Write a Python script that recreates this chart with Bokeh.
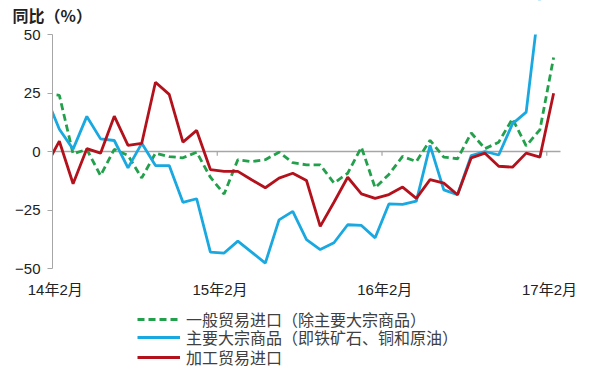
import numpy as np
from bokeh.plotting import figure
from bokeh.models import (Range1d, FixedTicker, Legend, LegendItem, ColumnDataSource)
from bokeh.core.properties import value
from bokeh.embed import file_html
from bokeh.resources import INLINE

# ---- data ----
months = [f"{y}年{m}月" for y in (14, 15, 16, 17) for m in range(1, 13)][:38]
general_import = [24.8, 24, -1, 0.9, -10.3, 0.9, -1.7, -11.3, -0.7, -2.2, -2.7, -0.3,
                  -11, -18.2, -3.5, -4.3, -3.5, -0.3, -4.8, -5.7, -5.7, -13.5, -9.3, 1.8,
                  -15.5, -9.8, -2.1, -4.3, 4.8, -2.4, -3.1, 7.9, 1.2, 4.0, 14, 2.4, 9.3, 40.2]
commodities = [23.8, 9.5, 1, 15, 5.4, 4.7, -7, 3.5, -6, -6, -21.7, -20.2,
               -43, -43.4, -38.3, -43, -47.7, -29.2, -25.6, -37.7, -41.9, -39, -31.3, -31.6,
               -36.9, -22.4, -22.6, -21.2, 2.6, -16.4, -18.4, -1.7, 0, -1.5, 11.8, 16.8, 66, np.nan]
processing = [-6.4, 4.4, -13.8, 1.2, -0.7, 15.1, 2.6, 3.5, 29.6, 24.4, 4.0, 9.0,
              -7.7, -8.5, -8.5, -12.1, -15.5, -11.4, -9.3, -12.4, -32, -21.7, -11, -18.1,
              -20, -18.4, -15.2, -20, -12, -13.5, -18.5, -2.7, -0.7, -6.3, -6.7, -0.7, -2.4, 24.9]
tick_labels = ["14年2月", "15年2月", "16年2月", "17年2月"]
y_ticks = [-50, -25, 0, 25, 50]
series_names = ["一般贸易进口（除主要大宗商品）", "主要大宗商品（即铁矿石、铜和原油）", "加工贸易进口"]
title_text = "同比（%）"

# ---- layout (pixels) ----
W, H = 600, 369
PLOT_L, PLOT_R, PLOT_T, PLOT_B = 52, 560, 34, 268
Y_MIN, Y_MAX = -50, 50

tick_pos = [months.index(l) - 0.5 for l in tick_labels]
x_first, x_last = tick_pos[0], len(months) - 0.5
ppx = (PLOT_R - PLOT_L) / (x_last - x_first)
ppy = (PLOT_B - PLOT_T) / (Y_MAX - Y_MIN)
x_range = Range1d(x_first - PLOT_L / ppx, x_last + (W - PLOT_R) / ppx)
y_range = Range1d(Y_MIN - (H - PLOT_B) / ppy, Y_MAX + PLOT_T / ppy)

x = np.arange(len(months))
src = ColumnDataSource(dict(x=x, g=general_import, c=commodities, p=processing))

p = figure(width=W, height=H, output_backend="svg", toolbar_location=None,
           x_range=x_range, y_range=y_range,
           min_border_left=0, min_border_right=0, min_border_top=0, min_border_bottom=0)
p.outline_line_color = None
p.xgrid.visible = False
p.ygrid.visible = False
p.background_fill_color = "white"

# zero line with small category ticks
p.segment(x0=[x_first], x1=[x_last], y0=[0], y1=[0], line_color="#A6A6A6", line_width=1.3)
p.segment(x0=tick_pos, x1=tick_pos, y0=[0] * len(tick_pos), y1=[-1.8] * len(tick_pos),
          line_color="#A6A6A6", line_width=1.2)

r_g = p.line("x", "g", source=src, line_color="#23A04B", line_width=2.8, line_dash="7 4")
r_c = p.line("x", "c", source=src, line_color="#19A8E0", line_width=2.8)
r_p = p.line("x", "p", source=src, line_color="#B3121C", line_width=2.8)

# plot area is bounded by the value axis and its maximum: hide what lies outside
pad = 20 / ppy
p.quad(left=[x_range.start], right=[x_first], bottom=[y_range.start], top=[y_range.end + pad],
       fill_color="white", line_color=None)
p.quad(left=[x_range.start], right=[x_range.end], bottom=[Y_MAX], top=[y_range.end + pad],
       fill_color="white", line_color=None)

# chart title (top-left)
p.text(x=[x_range.start + 12 / ppx], y=[Y_MAX + (PLOT_T - 14.5) / ppy], text=[title_text],
       text_align="left", text_baseline="middle",
       text_font=value("Noto Sans CJK SC"), text_font_size="16px", text_font_style="bold",
       text_color="#222222")

# x axis drawn at the bottom of the value range (labels "low")
xa = p.xaxis[0]
xa.fixed_location = Y_MIN
lab_pos = [t + 0.2 for t in tick_pos]
xa.ticker = FixedTicker(ticks=lab_pos)
xa.major_label_overrides = {t: l for t, l in zip(lab_pos, tick_labels)}
xa.axis_line_color = None
xa.major_tick_line_color = None
xa.major_tick_out = 0
xa.major_tick_in = 0
xa.minor_tick_line_color = None
xa.minor_tick_out = 0
xa.major_label_standoff = 12
xa.major_label_text_font = "Liberation Sans, Noto Sans CJK SC"
xa.major_label_text_font_size = "15px"
xa.major_label_text_color = "#222222"

ya = p.yaxis[0]
ya.fixed_location = x_first
ya.ticker = FixedTicker(ticks=y_ticks)
ya.bounds = (Y_MIN, Y_MAX)
ya.axis_line_color = "#A6A6A6"
ya.major_tick_line_color = "#A6A6A6"
ya.major_tick_out = 5
ya.major_tick_in = 0
ya.minor_tick_line_color = None
ya.major_label_standoff = 7
ya.major_label_text_font = "Liberation Sans"
ya.major_label_text_font_size = "15px"
ya.major_label_text_color = "#222222"

# one legend per row so the rows can sit as close as in the reference
for name, r, y_loc in zip(series_names, [r_g, r_c, r_p], [38, 20, 0]):
    lg = Legend(items=[LegendItem(label=name, renderers=[r])], location=(137, y_loc))
    lg.background_fill_alpha = 0
    lg.border_line_alpha = 0
    lg.padding = 0
    lg.margin = 0
    lg.spacing = 0
    lg.glyph_width = 43
    lg.glyph_height = 18
    lg.label_height = 18
    lg.label_standoff = 6
    lg.label_text_font = "Noto Sans CJK SC"
    lg.label_text_font_size = "16px"
    lg.label_text_color = "#404040"
    p.add_layout(lg)

open("out.html", "w").write(file_html(p, INLINE))
